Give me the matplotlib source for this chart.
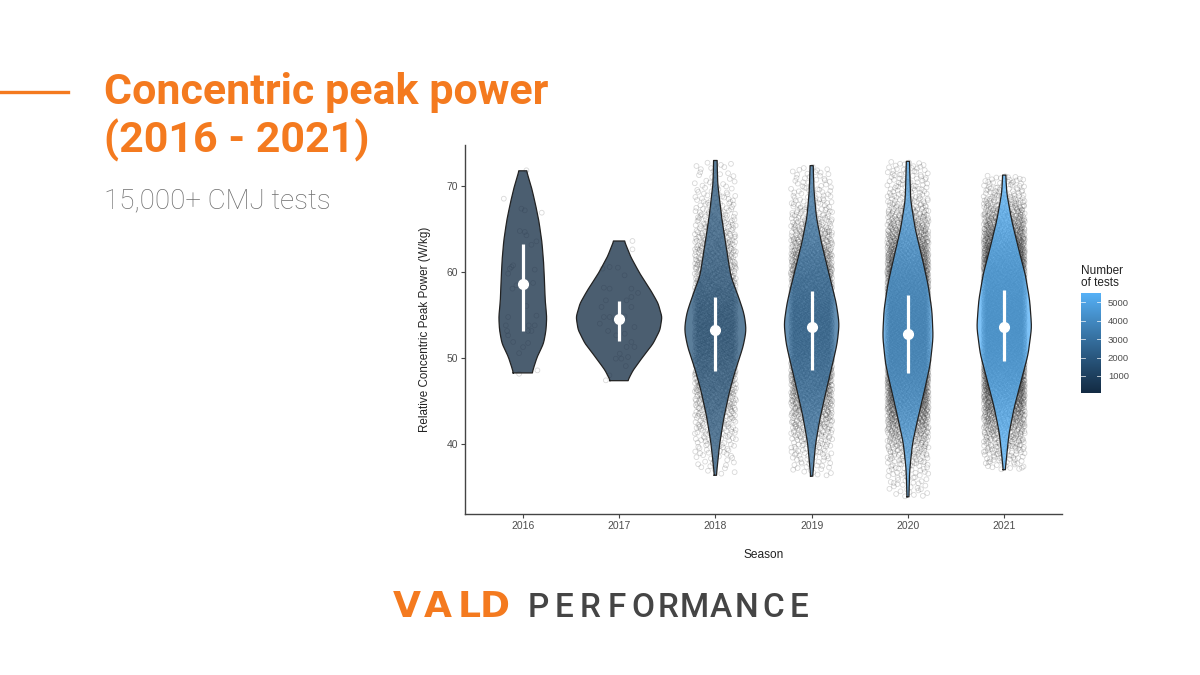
import numpy as np
import matplotlib
matplotlib.use("Agg")
import matplotlib.pyplot as plt
from matplotlib.colors import LinearSegmentedColormap, Normalize

# ---------------- data ----------------
seasons = ["2016", "2017", "2018", "2019", "2020", "2021"]
n_tests = [80, 90, 1900, 2900, 4600, 5490]
mean_power = [58.6, 54.6, 53.3, 53.6, 52.8, 53.6]
sd_low = [53.2, 52.0, 48.5, 48.6, 48.3, 49.7]
sd_high = [63.3, 56.7, 57.1, 57.8, 57.4, 57.9]

# violin outlines: power level (W/kg) and half width (x units)
v2016_y = [71.8, 69.9, 68.0, 66.05, 63.7, 61.4, 59.1, 56.7, 54.8, 53.3, 51.7, 50.2, 48.3]
v2016_w = [0.038, 0.090, 0.130, 0.166, 0.197, 0.215, 0.225, 0.233, 0.249, 0.242, 0.216, 0.150, 0.096]
v2017_y = [63.64, 61.8, 59.85, 57.9, 56.4, 54.8, 53.3, 51.7, 50.2, 48.6, 47.4]
v2017_w = [0.055, 0.121, 0.216, 0.329, 0.405, 0.446, 0.425, 0.353, 0.249, 0.145, 0.090]
v2018_y = [73.0, 70.3, 66.4, 62.6, 59.5, 57.1, 55.2, 53.3, 51.3, 49.0, 46.3, 43.2, 40.1, 36.4]
v2018_w = [0.018, 0.024, 0.065, 0.117, 0.161, 0.242, 0.299, 0.322, 0.288, 0.218, 0.150, 0.090, 0.045, 0.010]
v2019_y = [72.4, 69.5, 66.4, 63.3, 61.0, 58.7, 56.4, 54.0, 51.7, 49.4, 46.3, 43.2, 40.1, 36.3]
v2019_w = [0.016, 0.024, 0.049, 0.104, 0.156, 0.207, 0.256, 0.287, 0.265, 0.218, 0.152, 0.090, 0.041, 0.010]
v2020_y = [72.9, 68.4, 64.9, 61.8, 58.7, 55.6, 52.5, 49.4, 46.3, 43.2, 40.1, 37.0, 33.9]
v2020_w = [0.016, 0.028, 0.078, 0.145, 0.207, 0.249, 0.262, 0.233, 0.173, 0.107, 0.047, 0.018, 0.010]
v2021_y = [71.3, 69.2, 66.0, 62.9, 59.8, 56.7, 53.6, 50.5, 47.4, 44.3, 41.2, 37.05]
v2021_w = [0.016, 0.026, 0.078, 0.145, 0.218, 0.265, 0.285, 0.249, 0.176, 0.104, 0.049, 0.010]

# individual tests visible for the small seasons (jitter offset, W/kg)
p2016_x = [-0.197, 0.197, 0.038, -0.014, 0.021, -0.031, 0.021, 0.038, 0.090, 0.142, -0.100, -0.135,
           -0.152, -0.118, 0.124, -0.066, -0.107, 0.107, 0.038, -0.152, 0.142, -0.176, 0.062, 0.124,
           0.090, 0.055, -0.163, -0.152, -0.100, 0.003, -0.038, 0.055, 0.152, -0.038]
p2016_y = [68.56, 66.93, 71.86, 67.40, 67.20, 64.80, 64.69, 64.30, 63.20, 63.60, 60.81, 60.42,
           59.84, 60.62, 60.31, 58.49, 58.10, 58.76, 56.08, 54.80, 54.96, 53.83, 53.83, 53.83,
           53.18, 53.18, 53.18, 52.67, 51.90, 51.30, 50.60, 51.78, 48.60, 48.20]
p2017_x = [0.139, 0.139, -0.172, -0.098, -0.012, 0.057, -0.158, -0.098, 0.128, 0.197, 0.128, -0.137,
           0.078, 0.128, -0.182, -0.097, -0.158, 0.057, -0.045, -0.200, 0.160, -0.114, 0.059, -0.030,
           0.128, 0.078, 0.007, 0.160, -0.034, 0.024, 0.093, 0.070, -0.100, -0.137]
p2017_y = [63.64, 62.67, 60.42, 60.62, 60.54, 59.65, 58.21, 58.10, 58.10, 57.60, 57.13, 56.74,
           56.74, 55.97, 55.97, 54.80, 54.80, 54.88, 54.42, 54.03, 53.64, 53.18, 52.86, 52.67,
           51.90, 51.32, 50.54, 51.32, 49.96, 49.96, 50.15, 49.10, 48.02, 47.44]

violin_y = [v2016_y, v2017_y, v2018_y, v2019_y, v2020_y, v2021_y]
violin_w = [v2016_w, v2017_w, v2018_w, v2019_w, v2020_w, v2021_w]

# ---------------- helpers ----------------
W, H = 1200, 675


def fx(x):
    return x / W


def fy(y):
    return 1 - y / H


def _srgb_to_lin(c):
    c = np.asarray(c, float)
    return np.where(c <= 0.04045, c / 12.92, ((c + 0.055) / 1.055) ** 2.4)


def _lin_to_srgb(c):
    c = np.clip(c, 0, 1)
    return np.where(c <= 0.0031308, 12.92 * c, 1.055 * c ** (1 / 2.4) - 0.055)


M = np.array([[0.4124, 0.3576, 0.1805], [0.2126, 0.7152, 0.0722], [0.0193, 0.1192, 0.9505]])
WHITE = np.array([0.95047, 1.0, 1.08883])


def rgb_to_lab(rgb):
    xyz = M @ _srgb_to_lin(rgb) / WHITE
    f = np.where(xyz > 0.008856, np.cbrt(xyz), 7.787 * xyz + 16 / 116)
    return np.array([116 * f[1] - 16, 500 * (f[0] - f[1]), 200 * (f[1] - f[2])])


def lab_to_rgb(lab):
    fy_ = (lab[0] + 16) / 116
    fx_ = fy_ + lab[1] / 500
    fz_ = fy_ - lab[2] / 200
    f = np.array([fx_, fy_, fz_])
    xyz = np.where(f ** 3 > 0.008856, f ** 3, (f - 16 / 116) / 7.787) * WHITE
    return _lin_to_srgb(np.linalg.solve(M, xyz))


def hex_rgb(h):
    return np.array([int(h[i:i + 2], 16) / 255 for i in (1, 3, 5)])


lab_lo, lab_hi = rgb_to_lab(hex_rgb("#132B43")), rgb_to_lab(hex_rgb("#56B1F7"))
cmap = LinearSegmentedColormap.from_list(
    "gg", [lab_to_rgb(lab_lo + t * (lab_hi - lab_lo)) for t in np.linspace(0, 1, 64)])
norm = Normalize(min(n_tests), max(n_tests))


def smooth_profile(ys, ws):
    ys = np.asarray(ys, float)
    ws = np.asarray(ws, float)
    o = np.argsort(ys)
    yg = np.linspace(ys.min(), ys.max(), 400)
    wg = np.interp(yg, ys[o], ws[o])
    k = np.exp(-0.5 * (np.arange(-15, 16) / 6.0) ** 2)
    k /= k.sum()
    wp = np.concatenate([np.full(15, wg[0]), wg, np.full(15, wg[-1])])
    return yg, np.convolve(wp, k, mode="valid")


def halton(n, base):
    res = np.zeros(n)
    idx = np.arange(1, n + 1)
    f = 1.0
    while np.any(idx > 0):
        f /= base
        res += f * (idx % base)
        idx //= base
    return res


def cloud(ys, ws, n, center, halfjit):
    # deterministic low-discrepancy placement following the violin's density
    yg, wg = smooth_profile(ys, ws)
    cdf = np.cumsum(wg)
    cdf = (cdf - cdf[0]) / (cdf[-1] - cdf[0])
    q = halton(n, 2)
    u = halton(n, 3)
    return center + (u - 0.5) * 2 * halfjit, np.interp(q, cdf, yg)


# ---------------- figure ----------------
fig = plt.figure(figsize=(12, 6.75), dpi=100)
fig.patch.set_facecolor("white")
orange = "#F47A1F"
chart_font = "Liberation Sans"

ax = fig.add_axes([fx(465), fy(514), fx(1062) - fx(465), fy(145) - fy(514)])
ax.set_xlim(0.4, 6.6)
ax.set_ylim(31.9, 74.8)

pt_kw = dict(s=12, facecolors="none", edgecolors=(0.1, 0.1, 0.1, 0.17), linewidths=0.6, zorder=1)
ax.scatter(1 + np.array(p2016_x), p2016_y, **pt_kw)
ax.scatter(2 + np.array(p2017_x), p2017_y, **pt_kw)
for i in range(2, 6):
    cx, cy = cloud(violin_y[i], violin_w[i], n_tests[i], i + 1, 0.215)
    ax.scatter(cx, cy, **pt_kw)

for i in range(6):
    c = i + 1
    yg, wg = smooth_profile(violin_y[i], violin_w[i])
    col = cmap(norm(n_tests[i]))
    ax.fill_betweenx(yg, c - wg, c + wg, facecolor=col, alpha=0.76, lw=0, zorder=2)
    ox = np.concatenate([c - wg, (c + wg)[::-1], [c - wg[0]]])
    oy = np.concatenate([yg, yg[::-1], [yg[0]]])
    ax.plot(ox, oy, color="#222222", lw=0.9, zorder=3)
    ax.plot([c, c], [sd_low[i], sd_high[i]], color="white", lw=2.3, solid_capstyle="butt", zorder=4)
    ax.plot([c], [mean_power[i]], "o", color="white", ms=7, zorder=5)

for s in ("top", "right"):
    ax.spines[s].set_visible(False)
for s in ("left", "bottom"):
    ax.spines[s].set_color("#444444")
    ax.spines[s].set_linewidth(1.0)
ax.set_xticks(range(1, 7))
ax.set_xticklabels(seasons)
ax.set_yticks([40, 50, 60, 70])
ax.tick_params(length=3, width=0.8, color="#444444", labelsize=7.5, labelcolor="#4d4d4d", pad=2)
for lab in ax.get_xticklabels() + ax.get_yticklabels():
    lab.set_family(chart_font)
ax.set_xlabel("Season", family=chart_font, fontsize=8.6, color="#222222", labelpad=13)
ax.set_ylabel("Relative Concentric Peak Power (W/kg)", family=chart_font, fontsize=8.4,
              color="#222222", labelpad=11)

# colour bar
cax = fig.add_axes([fx(1081), fy(393), fx(1101) - fx(1081), fy(293) - fy(393)])
grad = np.linspace(min(n_tests), max(n_tests), 256).reshape(-1, 1)
cax.imshow(grad, aspect="auto", cmap=cmap, norm=norm, origin="lower",
           extent=[0, 1, min(n_tests), max(n_tests)])
cax.set_xlim(0, 1)
cax.set_ylim(min(n_tests), max(n_tests))
cticks = [1000, 2000, 3000, 4000, 5000]
for t in cticks:
    cax.plot([0, 0.2], [t, t], color="white", lw=0.6, alpha=0.8)
    cax.plot([0.8, 1], [t, t], color="white", lw=0.6, alpha=0.8)
cax.set_xticks([])
cax.yaxis.tick_right()
cax.set_yticks(cticks)
cax.set_yticklabels([str(t) for t in cticks], family=chart_font, fontsize=6.8, color="#4d4d4d")
cax.tick_params(axis="y", length=0, pad=5)
for s in cax.spines.values():
    s.set_visible(False)
fig.text(fx(1081), fy(265), "Number\nof tests", family=chart_font, fontsize=8.5, color="#222222",
         ha="left", va="top", linespacing=0.95)

# title block
fig.add_artist(plt.Line2D([0, fx(68)], [fy(91.5), fy(91.5)], color=orange, lw=2.4))
fig.text(fx(104), fy(104), "Concentric peak power", family="Roboto", fontweight="bold",
         fontsize=31, color=orange, ha="left", va="baseline")
fig.text(fx(104), fy(153), "(2016 - 2021)", family="Roboto", fontweight="bold",
         fontsize=31, color=orange, ha="left", va="baseline")
fig.text(fx(104), fy(208), "15,000+ CMJ tests", family="Roboto", fontweight="light",
         fontsize=20, color="#6d6d6d", ha="left", va="baseline")

# logo
for ch, cxp in zip("VALD", [406.5, 438.0, 469.5, 494.5]):
    fig.text(fx(cxp), fy(617), ch, family="DejaVu Sans", fontweight="bold", fontsize=26,
             color=orange, ha="center", va="baseline")
perf = "PERFORMANCE"
step = (812 - 525) / len(perf)
for k, ch in enumerate(perf):
    fig.text(fx(525 + step * (k + 0.5)), fy(617), ch, family="Roboto", fontweight="medium",
             fontsize=24, color="#454545", ha="center", va="baseline")

fig.savefig("out.png", dpi=100, facecolor="white")
